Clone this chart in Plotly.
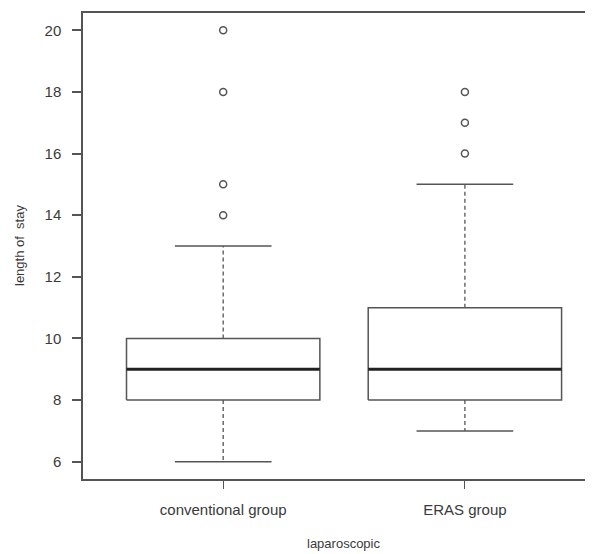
import plotly.graph_objects as go

# ---- data ----
groups = ["conventional group", "ERAS group"]
q1 = [8, 8]
median = [9, 9]
q3 = [10, 11]
whisker_low = [6, 7]
whisker_high = [13, 15]
outliers = [[14, 15, 18, 20], [16, 17, 18]]
y_ticks = [6, 8, 10, 12, 14, 16, 18, 20]

BOX_W = 0.8      # R default boxwex
CAP_W = 0.4      # staplewex 0.5 * box width
GRAY = "#555555"
FONT = "Liberation Sans, Arial, sans-serif"

fig = go.Figure()
positions = list(range(1, len(groups) + 1))

for i, p in enumerate(positions):
    l, r = p - BOX_W / 2, p + BOX_W / 2
    # whiskers (dashed)
    fig.add_trace(go.Scatter(x=[p, p, None, p, p],
                             y=[q3[i], whisker_high[i], None, q1[i], whisker_low[i]],
                             mode="lines", line=dict(color=GRAY, width=1.3, dash="4px,3px"),
                             hoverinfo="skip", showlegend=False))
    # caps
    fig.add_trace(go.Scatter(x=[p - CAP_W / 2, p + CAP_W / 2, None, p - CAP_W / 2, p + CAP_W / 2],
                             y=[whisker_high[i], whisker_high[i], None, whisker_low[i], whisker_low[i]],
                             mode="lines", line=dict(color=GRAY, width=1.5),
                             hoverinfo="skip", showlegend=False))
    # box
    fig.add_trace(go.Scatter(x=[l, r, r, l, l],
                             y=[q1[i], q1[i], q3[i], q3[i], q1[i]],
                             mode="lines", line=dict(color=GRAY, width=1.5),
                             fill="toself", fillcolor="white",
                             hoverinfo="skip", showlegend=False))
    # median
    fig.add_trace(go.Scatter(x=[l, r], y=[median[i], median[i]],
                             mode="lines", line=dict(color="#222222", width=3),
                             hoverinfo="skip", showlegend=False))
    # outliers
    fig.add_trace(go.Scatter(x=[p] * len(outliers[i]), y=outliers[i],
                             mode="markers",
                             marker=dict(symbol="circle-open", size=7, color=GRAY,
                                         line=dict(width=1.5, color=GRAY)),
                             hoverinfo="skip", showlegend=False))

fig.update_layout(
    width=585, height=546,
    margin=dict(l=75, r=0, t=5, b=75),
    paper_bgcolor="white", plot_bgcolor="white",
    font=dict(family=FONT, size=14, color="#3a3a3a"),
    xaxis=dict(range=[0.42, 2.53], tickvals=positions, ticktext=groups,
               showgrid=False, zeroline=False, showline=True, mirror=True,
               linecolor=GRAY, linewidth=1.5, ticks="outside", ticklen=8,
               tickcolor=GRAY, tickwidth=1, ticklabelstandoff=8,
               tickfont=dict(size=15, color="#3a3a3a")),
    yaxis=dict(range=[5.44, 20.56], tickvals=y_ticks,
               showgrid=False, zeroline=False, showline=True,
               linecolor=GRAY, linewidth=1.5, ticks="outside", ticklen=9,
               tickcolor=GRAY, tickwidth=1.5, ticklabelstandoff=8,
               tickfont=dict(size=15, color="#3a3a3a")),
    annotations=[
        dict(text="length of  stay", xref="paper", yref="paper", x=0, y=0.5,
             xshift=-64, xanchor="center", yanchor="middle", textangle=-90,
             showarrow=False, font=dict(size=13, color="#3a3a3a")),
        dict(text="laparoscopic", xref="paper", yref="paper", x=0.51, y=0,
             yshift=-64, xanchor="center", yanchor="middle", showarrow=False,
             font=dict(size=13, color="#3a3a3a")),
    ],
)

fig.write_html("out.html")
